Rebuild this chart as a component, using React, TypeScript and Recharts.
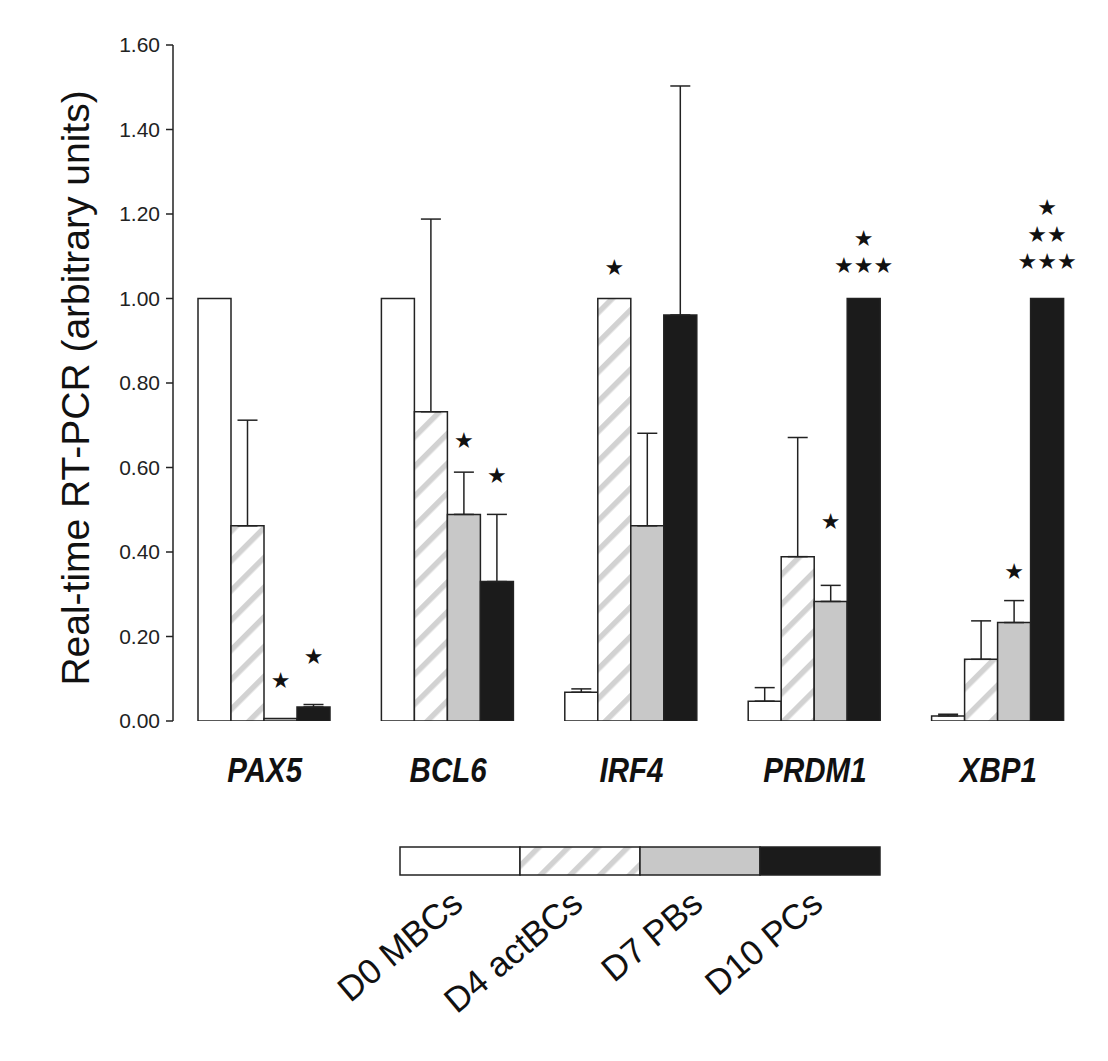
import React from 'react';
import { BarChart, Bar, XAxis, YAxis, ErrorBar, LabelList } from 'recharts';

// ---- data ----
const categories = ['PAX5', 'BCL6', 'IRF4', 'PRDM1', 'XBP1'];
const seriesNames = ['D0 MBCs', 'D4 actBCs', 'D7 PBs', 'D10 PCs'];
const yTicks = [0, 0.2, 0.4, 0.6, 0.8, 1.0, 1.2, 1.4, 1.6];
const boundaryTicks = [0, 1, 2, 3, 4, 5];

const d0Values = [1.0, 1.0, 0.068, 0.047, 0.012];
const d0ErrTop = [null, null, 0.076, 0.079, 0.016];
const d4Values = [0.462, 0.732, 1.0, 0.389, 0.146];
const d4ErrTop = [0.712, 1.188, null, 0.671, 0.237];
const d7Values = [0.006, 0.489, 0.462, 0.283, 0.233];
const d7ErrTop = [null, 0.589, 0.681, 0.321, 0.285];
const d10Values = [0.033, 0.33, 0.961, 1.0, 1.0];
const d10ErrTop = [0.039, 0.489, 1.503, null, null];

// significance stars: text (lines separated by |) and the value at which the lowest line sits
const d4Stars = [null, null, '★', null, null];
const d4StarAt = [null, null, 1.074, null, null];
const d7Stars = ['★', '★', null, '★', '★'];
const d7StarAt = [0.097, 0.665, null, 0.473, 0.353];
const d10Stars = ['★', '★', null, '★|★★★', '★|★★|★★★'];
const d10StarAt = [0.152, 0.58, null, 1.077, 1.087];

const FONT = '"Liberation Sans", Arial, Helvetica, sans-serif';
const INK = '#222';
const GRAY = '#c8c8c8';
const BLACK = '#1b1b1b';
const HATCH = '#d2d2d2';

const mkErr = (v: number, top: number | null) => (top == null ? undefined : [0, top - v]);
const mkGap = (v: number, at: number | null) => (at == null ? null : at - v);

const data = categories.map((cat, i) => ({
  cat,
  d0: d0Values[i],
  d0Err: mkErr(d0Values[i], d0ErrTop[i]),
  d4: d4Values[i],
  d4Err: mkErr(d4Values[i], d4ErrTop[i]),
  d4Gap: mkGap(d4Values[i], d4StarAt[i]),
  d4Star: d4Stars[i],
  d7: d7Values[i],
  d7Err: mkErr(d7Values[i], d7ErrTop[i]),
  d7Gap: mkGap(d7Values[i], d7StarAt[i]),
  d7Star: d7Stars[i],
  d10: d10Values[i],
  d10Err: mkErr(d10Values[i], d10ErrTop[i]),
  d10Gap: mkGap(d10Values[i], d10StarAt[i]),
  d10Star: d10Stars[i],
}));

const fills = ['#ffffff', 'url(#hatchChart)', GRAY, BLACK];
const legendFills = ['#ffffff', 'url(#hatchLegend)', GRAY, BLACK];

const renderStar = (props: any) => {
  const { x, y, width, value } = props;
  if (!value) return null;
  const lines = String(value).split('|');
  const cx = Number(x) + Number(width) / 2;
  return (
    <g>
      {lines.map((l, k) => (
        <text
          key={k}
          x={cx}
          y={Number(y) - (lines.length - 1 - k) * 27}
          textAnchor="middle"
          dominantBaseline="central"
          fontSize={22}
          fontFamily='"DejaVu Sans", sans-serif'
          fill="#111"
        >
          {l}
        </text>
      ))}
    </g>
  );
};

const CatTick = (props: any) => {
  const { x, y, payload } = props;
  return (
    <text
      transform={`translate(${x},${Number(y) + 61}) scale(0.82,1)`}
      textAnchor="middle"
      fontSize={36}
      fontWeight="bold"
      fontStyle="italic"
      fontFamily={FONT}
      fill="#111"
    >
      {payload.value}
    </text>
  );
};

const YLabel = (props: any) => {
  const vb = props.viewBox || {};
  const cx = vb.x + 67;
  const cy = vb.y + vb.height / 2 + 5;
  return (
    <text
      x={cx}
      y={cy}
      transform={`rotate(-90, ${cx}, ${cy})`}
      textAnchor="middle"
      dominantBaseline="central"
      fontSize={39}
      fontFamily={FONT}
      fill="#111"
    >
      Real-time RT-PCR (arbitrary units)
    </text>
  );
};

const HatchPattern = ({ id }: { id: string }) => (
  <pattern id={id} patternUnits="userSpaceOnUse" width="21" height="21" patternTransform="rotate(45)">
    <rect width="21" height="21" fill="#ffffff" />
    <rect x="0" y="0" width="5.5" height="21" fill={HATCH} />
  </pattern>
);

const errProps = { width: 10, stroke: INK, strokeWidth: 1.5, direction: 'y' as const };

export default function App() {
  const cellW = 120;
  const legendX = 392;
  const legendY = 839;
  return (
    <div style={{ position: 'relative', width: 1100, height: 1050, background: '#fff' }}>
      <BarChart
        width={1100}
        height={790}
        data={data}
        margin={{ top: 37, right: 18, bottom: 7, left: 0 }}
        barCategoryGap={25}
        barGap={0}
      >
        <defs>
          <HatchPattern id="hatchChart" />
        </defs>
        <XAxis
          xAxisId="grid"
          type="number"
          domain={[0, 5]}
          ticks={boundaryTicks}
          allowDataOverflow
          height={0}
          tick={false}
          tickSize={8}
          axisLine={{ stroke: INK, strokeWidth: 1.5 }}
          tickLine={{ stroke: INK, strokeWidth: 1.5 }}
        />
        <XAxis
          xAxisId="cat"
          dataKey="cat"
          type="category"
          height={70}
          axisLine={false}
          tickLine={false}
          tickSize={0}
          tickMargin={0}
          tick={<CatTick />}
          interval={0}
        />
        <YAxis
          domain={[0, 1.6]}
          ticks={yTicks}
          width={165}
          tickSize={7}
          tickMargin={6}
          tickFormatter={(v: number) => v.toFixed(2)}
          tick={{ fontSize: 21, fontFamily: FONT, fill: '#222' }}
          axisLine={{ stroke: INK, strokeWidth: 1.5 }}
          tickLine={{ stroke: INK, strokeWidth: 1.5 }}
          label={<YLabel />}
          allowDataOverflow
        />
        <Bar xAxisId="cat" dataKey="d0" stackId="s0" fill={fills[0]} stroke={INK} strokeWidth={1.5} isAnimationActive={false}>
          <ErrorBar dataKey="d0Err" {...errProps} />
        </Bar>
        <Bar xAxisId="cat" dataKey="d4" stackId="s1" fill={fills[1]} stroke={INK} strokeWidth={1.5} isAnimationActive={false}>
          <ErrorBar dataKey="d4Err" {...errProps} />
        </Bar>
        <Bar xAxisId="cat" dataKey="d4Gap" stackId="s1" fill="transparent" stroke="none" isAnimationActive={false}>
          <LabelList dataKey="d4Star" content={renderStar} />
        </Bar>
        <Bar xAxisId="cat" dataKey="d7" stackId="s2" fill={fills[2]} stroke={INK} strokeWidth={1.5} isAnimationActive={false}>
          <ErrorBar dataKey="d7Err" {...errProps} />
        </Bar>
        <Bar xAxisId="cat" dataKey="d7Gap" stackId="s2" fill="transparent" stroke="none" isAnimationActive={false}>
          <LabelList dataKey="d7Star" content={renderStar} />
        </Bar>
        <Bar xAxisId="cat" dataKey="d10" stackId="s3" fill={fills[3]} stroke={INK} strokeWidth={1.5} isAnimationActive={false}>
          <ErrorBar dataKey="d10Err" {...errProps} />
        </Bar>
        <Bar xAxisId="cat" dataKey="d10Gap" stackId="s3" fill="transparent" stroke="none" isAnimationActive={false}>
          <LabelList dataKey="d10Star" content={renderStar} />
        </Bar>
      </BarChart>
      <svg
        width={1100}
        height={1050}
        style={{ position: 'absolute', left: 0, top: 0, pointerEvents: 'none' }}
      >
        <defs>
          <HatchPattern id="hatchLegend" />
        </defs>
        {seriesNames.map((name, i) => (
          <rect
            key={'r' + name}
            x={legendX + i * cellW}
            y={legendY}
            width={cellW}
            height={28}
            fill={legendFills[i]}
            stroke={INK}
            strokeWidth={1.5}
          />
        ))}
        {seriesNames.map((name, i) => {
          const ax = legendX + i * cellW + cellW / 2 + 5;
          const ay = 899;
          return (
            <text
              key={'t' + name}
              x={ax}
              y={ay}
              transform={`rotate(-40, ${ax}, ${ay})`}
              textAnchor="end"
              fontSize={35}
              fontFamily={FONT}
              fill="#111"
            >
              {name}
            </text>
          );
        })}
      </svg>
    </div>
  );
}
